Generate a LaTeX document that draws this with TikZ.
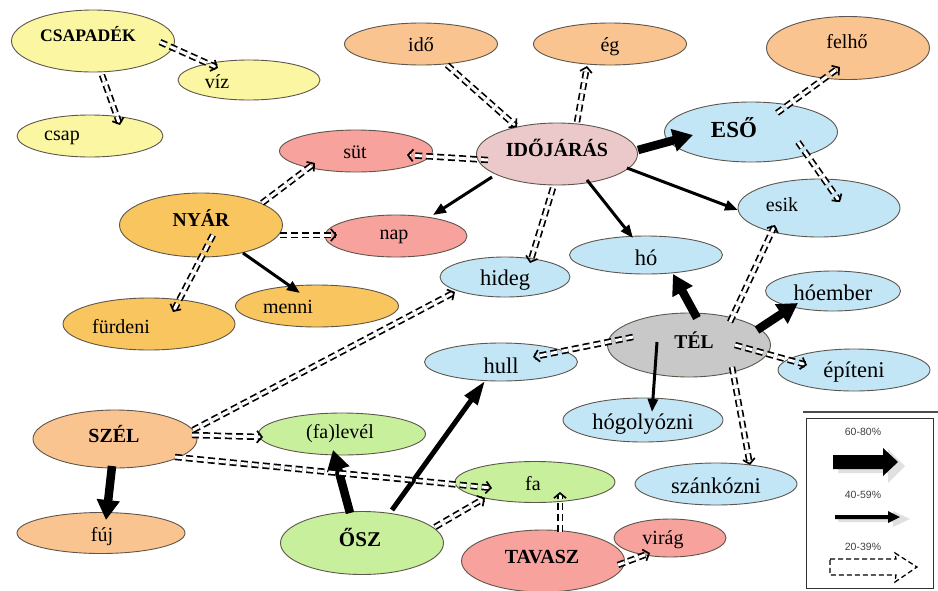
\documentclass[tikz,border=0pt]{standalone}
\usepackage{fontspec}
\setmainfont{Liberation Serif}
\setsansfont{Liberation Sans}
\usetikzlibrary{shapes.geometric,arrows.meta,calc}
\definecolor{cyel}{HTML}{FAF6A1}
\definecolor{corg}{HTML}{FAC490}
\definecolor{cnyar}{HTML}{F9C55E}
\definecolor{csal}{HTML}{F7A29C}
\definecolor{cpink}{HTML}{EBC9CA}
\definecolor{cblue}{HTML}{C3E6F7}
\definecolor{cgrey}{HTML}{C8C8C8}
\definecolor{cgreen}{HTML}{C8F09C}
\definecolor{cedge}{HTML}{5E564C}
\begin{document}
\begin{tikzpicture}[x=1pt,y=-1pt,
  bub/.style={ellipse, draw=cedge, line width=0.9pt, inner sep=0pt},
  lbl/.style={inner sep=0pt, font=\fontsize{20}{24}\selectfont},
  wlbl/.style={inner sep=0pt, font=\fontsize{22.5}{26}\selectfont},
  blbl/.style={inner sep=0pt, font=\fontsize{#1}{24}\selectfont\bfseries},
  blbl/.default=19.5,
  strong/.style={line width=8.5pt, -{Triangle[length=20pt,width=22pt]}},
  medium/.style={line width=3pt, -{Triangle[length=13pt,width=10pt]}},
  heavy/.style={line width=5pt, -{Triangle[length=24pt,width=15pt]}},
  weak/.style={line width=1.7pt, double distance=3pt, dash pattern=on 7pt off 4pt, -{Straight Barb[length=5pt,width=12pt]}},
  legtxt/.style={inner sep=0pt, font=\sffamily\fontsize{10.5}{12}\selectfont, text=black!75}
]
\useasboundingbox (0,0) rectangle (938,590);

% ---- ellipses ----
\node[bub, fill=cyel, minimum width=163pt, minimum height=62pt] (csapadek) at (93,41) {};
\node[blbl=17.6] (csapadek-t) at (88,34) {CSAPADÉK};
\node[bub, fill=cyel, minimum width=142pt, minimum height=40pt] (viz) at (249,80) {};
\node[lbl] (viz-t) at (217,82) {víz};
\node[bub, fill=cyel, minimum width=146pt, minimum height=42pt] (csap) at (90,136) {};
\node[lbl] (csap-t) at (62,138) {csap};

\node[bub, fill=corg, minimum width=153pt, minimum height=42pt] (ido) at (421,44) {};
\node[lbl] (ido-t) at (421,45) {idő};
\node[bub, fill=corg, minimum width=153pt, minimum height=42pt] (eg) at (610,44) {};
\node[lbl] (eg-t) at (610,47) {ég};
\node[bub, fill=corg, minimum width=163pt, minimum height=63pt] (felho) at (848,48) {};
\node[lbl] (felho-t) at (847,42) {felhő};

\node[bub, fill=cpink, minimum width=161pt, minimum height=62pt] (idojaras) at (557,154) {};
\node[blbl=20] (idojaras-t) at (557,148) {IDŐJÁRÁS};
\node[bub, fill=cblue, minimum width=173pt, minimum height=60pt] (eso) at (751,132) {};
\node[blbl=23] (eso-t) at (734,128) {ESŐ};
\node[bub, fill=csal, minimum width=153pt, minimum height=42pt] (sut) at (356,151) {};
\node[lbl] (sut-t) at (355,152) {süt};
\node[bub, fill=cblue, minimum width=162pt, minimum height=58pt] (esik) at (819,208) {};
\node[lbl] (esik-t) at (782,205) {esik};

\node[bub, fill=cnyar, minimum width=163pt, minimum height=64pt] (nyar) at (201,225) {};
\node[blbl=19.7] (nyar-t) at (201,218) {NYÁR};
\node[bub, fill=csal, minimum width=142pt, minimum height=42pt] (nap) at (396,236) {};
\node[lbl] (nap-t) at (394,237) {nap};
\node[bub, fill=cblue, minimum width=130pt, minimum height=40pt] (hideg) at (505,277) {};
\node[wlbl] (hideg-t) at (505,280) {hideg};
\node[bub, fill=cblue, minimum width=153pt, minimum height=38pt] (ho) at (646,255) {};
\node[wlbl] (ho-t) at (646,258) {hó};
\node[bub, fill=cnyar, minimum width=172pt, minimum height=52pt] (furdeni) at (149,324) {};
\node[lbl] (furdeni-t) at (121,327) {fürdeni};
\node[bub, fill=cnyar, minimum width=163pt, minimum height=42pt] (menni) at (317,306) {};
\node[lbl] (menni-t) at (288,307) {menni};

\node[bub, fill=cblue, minimum width=135pt, minimum height=40pt] (hoember) at (833,291) {};
\node[wlbl] (hoember-t) at (833,293) {hóember};
\node[bub, fill=cgrey, minimum width=163pt, minimum height=64pt] (tel) at (689,345) {};
\node[blbl=19.5] (tel-t) at (694,340) {TÉL};
\node[bub, fill=cblue, minimum width=153pt, minimum height=38pt] (hull) at (501,362) {};
\node[wlbl] (hull-t) at (501,366) {hull};
\node[bub, fill=cblue, minimum width=152pt, minimum height=42pt] (epiteni) at (854,370) {};
\node[wlbl] (epiteni-t) at (854,372) {építeni};
\node[bub, fill=cblue, minimum width=160pt, minimum height=44pt] (hogolyozni) at (643,420) {};
\node[wlbl] (hogolyozni-t) at (643,424) {hógolyózni};

\node[bub, fill=corg, minimum width=164pt, minimum height=58pt] (szel) at (115,439) {};
\node[blbl=20] (szel-t) at (114,434) {SZÉL};
\node[bub, fill=cgreen, minimum width=167pt, minimum height=42pt] (falevel) at (342,434) {};
\node[lbl] (falevel-t) at (340,434) {(fa)levél};
\node[bub, fill=cblue, minimum width=162pt, minimum height=42pt] (szankozni) at (716,484) {};
\node[wlbl] (szankozni-t) at (716,486) {szánkózni};
\node[bub, fill=cgreen, minimum width=160pt, minimum height=41pt] (fa) at (535,482) {};
\node[lbl] (fa-t) at (533,484) {fa};
\node[bub, fill=corg, minimum width=168pt, minimum height=41pt] (fuj) at (101,533) {};
\node[lbl] (fuj-t) at (102,537) {fúj};
\node[bub, fill=cgreen, minimum width=163pt, minimum height=63pt] (osz) at (362,543) {};
\node[blbl=21] (osz-t) at (360,537) {ŐSZ};
\node[bub, fill=csal, minimum width=163pt, minimum height=62pt] (tavasz) at (543,561) {};
\node[blbl=20] (tavasz-t) at (542,557) {TAVASZ};
\node[bub, fill=csal, minimum width=112pt, minimum height=38pt] (virag) at (670,538) {};
\node[lbl] (virag-t) at (663,540) {virág};

% ---- strong ----
\draw[strong] ($(idojaras)+(81,-4)$) -- ($(eso)+(-58,3)$);
\draw[strong] ($(tel)+(8,-27)$) -- ($(ho)+(27,19)$);
\draw[strong] ($(tel)+(68,-15)$) -- ($(hoember)+(-35,12)$);
\draw[strong] ($(osz)+(-12,-30)$) -- ($(falevel)+(-9,16)$);
\draw[strong] ($(szel)+(-3,27)$) -- ($(fuj)+(5,-13)$);

% ---- medium ----
\draw[medium] ($(idojaras)+(-65,23)$) -- ($(nap)+(37,-21)$);
\draw[medium] ($(idojaras)+(30,26)$) -- ($(ho)+(-13,-17)$);
\draw[medium] ($(idojaras)+(70,14)$) -- ($(esik)+(-81,2)$);
\draw[medium] ($(nyar)+(42,28)$) -- ($(menni)+(-17,-13)$);
\draw[medium] ($(tel)+(-32,-3)$) -- ($(hogolyozni)+(9,-8)$);
\draw[heavy] ($(osz)+(30,-33)$) -- ($(hull)+(-16,19)$);

% ---- weak ----
\draw[weak] ($(csapadek)+(67,1)$) -- ($(viz)+(-31,-12)$);
\draw[weak] ($(csapadek)+(9,34)$) -- ($(csap)+(30,-11)$);
\draw[weak] ($(ido)+(26,21)$) -- ($(idojaras)+(-40,-27)$);
\draw[weak] ($(idojaras)+(20,-32)$) -- ($(eg)+(-23,22)$);
\draw[weak] ($(idojaras)+(-69,6)$) -- ($(sut)+(51,4)$);
\draw[weak] ($(eso)+(26,-19)$) -- ($(felho)+(-8,19)$);
\draw[weak] ($(eso)+(47,10)$) -- ($(esik)+(21,-6)$);
\draw[weak] ($(nyar)+(61,-22)$) -- ($(sut)+(-41,12)$);
\draw[weak] ($(nyar)+(79,10)$) -- ($(nap)+(-59,-1)$);
\draw[weak] ($(nyar)+(12,10)$) -- ($(furdeni)+(24,-12)$);
\draw[weak] ($(idojaras)+(-4,34)$) -- ($(hideg)+(25,-14)$);
\draw[weak] ($(szel)+(78,-9)$) -- ($(hideg)+(-50,15)$);
\draw[weak] ($(szel)+(77,-4)$) -- ($(falevel)+(-79,3)$);
\draw[weak] ($(szel)+(60,18)$) -- ($(fa)+(-43,6)$);
\draw[weak] ($(osz)+(73,-16)$) -- ($(fa)+(-50,16)$);
\draw[weak] ($(tavasz)+(17,-29)$) -- ($(fa)+(25,10)$);
\draw[weak] ($(tavasz)+(75,4)$) -- ($(virag)+(-20,15)$);
\draw[weak] ($(tel)+(41,-23)$) -- ($(esik)+(-44,17)$);
\draw[weak] ($(tel)+(-56,-8)$) -- ($(hull)+(32,-5)$);
\draw[weak] ($(tel)+(46,0)$) -- ($(epiteni)+(-47,-5)$);
\draw[weak] ($(tel)+(43,22)$) -- ($(szankozni)+(34,-19)$);

% ---- legend ----
\draw[line width=2pt, black!70] (803,412) -- (938,412);
\draw[line width=0.8pt, black!80] (806,418) rectangle (933,588);
\node[legtxt] (l1) at (863,432) {60-80\%};
\node[legtxt] (l2) at (863,495) {40-59\%};
\node[legtxt] (l3) at (863,547) {20-39\%};
% big arrow
\fill[black!12] (838,459) -- (888,459) -- (888,449) -- (905,466) -- (888,483) -- (888,473) -- (838,473) -- cycle;
\fill[black] (833,455) -- (883,455) -- (883,448) -- (898,462) -- (883,476) -- (883,469) -- (833,469) -- cycle;
% medium arrow
\fill[black!12] (838,516) -- (893,516) -- (893,511) -- (910,519) -- (893,527) -- (893,522) -- (838,522) -- cycle;
\fill[black] (835,515) -- (888,515) -- (888,511) -- (900,517) -- (888,523) -- (888,519) -- (835,519) -- cycle;
% dashed arrow
\draw[line width=1.3pt, dash pattern=on 5pt off 3pt] (830,559) -- (896,559) -- (895,553) -- (917,567) -- (895,582) -- (896,575) -- (830,575) -- cycle;
\end{tikzpicture}
\end{document}
